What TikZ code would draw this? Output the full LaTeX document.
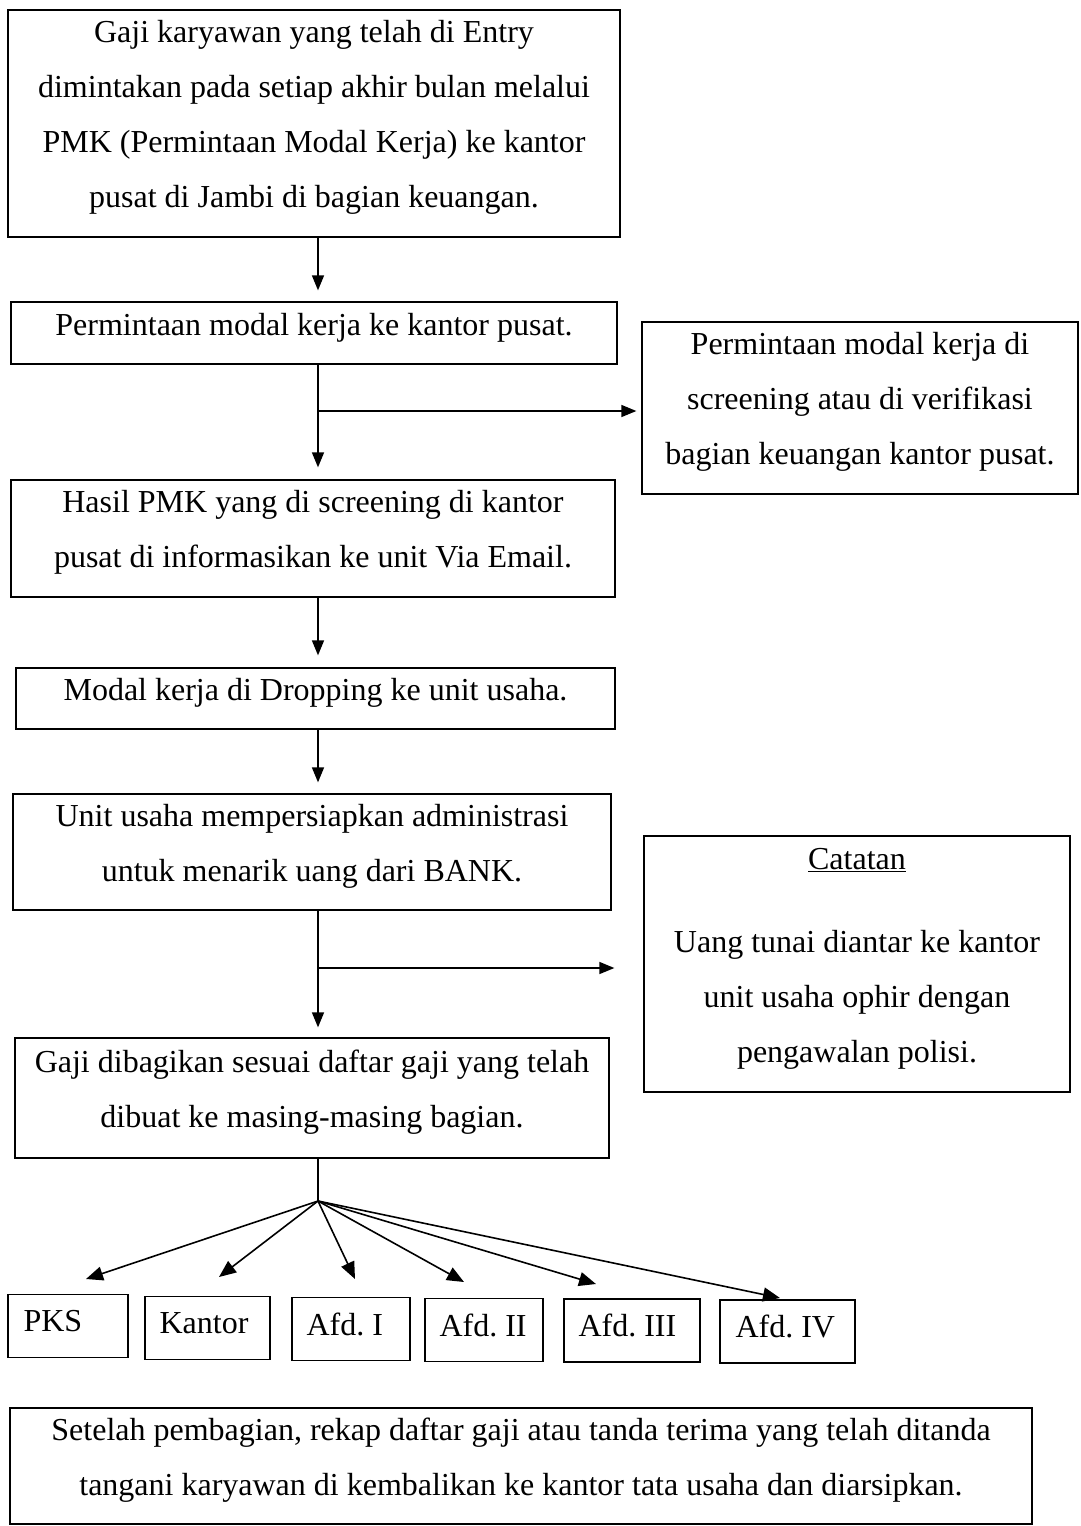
\documentclass[tikz,border=0pt]{standalone}
\usepackage{fontspec}
\setmainfont{Liberation Serif}
\usetikzlibrary{arrows.meta}
\begin{document}
\frenchspacing
\begin{tikzpicture}[x=1pt,y=-1pt,
  box/.style={draw, line width=1.3pt, inner sep=0pt, minimum height=#1},
  txt/.style={align=center, inner sep=0pt, font=\fontsize{32}{55}\selectfont},
  arr/.style={line width=1.5pt, -{Triangle[length=15pt,width=12pt]}},
  farr/.style={line width=1.6pt, -{Triangle[length=17pt,width=14pt]}},
  ln/.style={line width=1.5pt}]
\useasboundingbox[fill=white] (0,0) rectangle (1080,1526);
% boxes
\node[box=227pt, minimum width=612pt] (b1) at (314,123.5) {};
\node[box=62pt, minimum width=606pt] (b2) at (314,333) {};
\node[box=172pt, minimum width=436pt] (r1) at (860,408) {};
\node[box=117pt, minimum width=604pt] (b3) at (313,538.5) {};
\node[box=61pt, minimum width=599pt] (b4) at (315.5,698.5) {};
\node[box=116pt, minimum width=598pt] (b5) at (312,852) {};
\node[box=256pt, minimum width=426pt] (r2) at (857,964) {};
\node[box=120pt, minimum width=594pt] (b6) at (312,1098) {};
\node[box=63pt, minimum width=120pt] (p1) at (68,1326) {};
\node[box=63pt, minimum width=125pt] (p2) at (207.5,1328) {};
\node[box=63pt, minimum width=118pt] (p3) at (351,1329) {};
\node[box=63pt, minimum width=118pt] (p4) at (484,1330) {};
\node[box=63pt, minimum width=136pt] (p5) at (632,1330.5) {};
\node[box=63pt, minimum width=135pt] (p6) at (787.5,1331.5) {};
\node[box=116pt, minimum width=1022pt] (b7) at (521,1466) {};
% texts
\node[txt] at ([yshift=6pt]b1.center) {Gaji karyawan yang telah di Entry\\dimintakan pada setiap akhir bulan melalui\\PMK (Permintaan Modal Kerja) ke kantor\\pusat di Jambi di bagian keuangan.};
\node[txt] at ([yshift=5pt]b2.center) {Permintaan modal kerja ke kantor pusat.};
\node[txt] at ([yshift=6pt]r1.center) {Permintaan modal kerja di\\screening atau di verifikasi\\bagian keuangan kantor pusat.};
\node[txt] at ([yshift=6pt]b3.center) {Hasil PMK yang di screening di kantor\\pusat di informasikan ke unit Via Email.};
\node[txt] at ([yshift=6pt]b4.center) {Modal kerja di Dropping ke unit usaha.};
\node[txt] at ([yshift=6pt]b5.center) {Unit usaha mempersiapkan administrasi\\untuk menarik uang dari BANK.};
\node[txt] at ([yshift=5pt]r2.center) {\underline{Catatan}\\[28pt]Uang tunai diantar ke kantor\\unit usaha ophir dengan\\pengawalan polisi.};
\node[txt] at ([yshift=6pt]b6.center) {Gaji dibagikan sesuai daftar gaji yang telah\\dibuat ke masing-masing bagian.};
\node[txt, anchor=west] at ([xshift=16pt,yshift=5pt]p1.west) {PKS};
\node[txt, anchor=west] at ([xshift=15pt,yshift=5pt]p2.west) {Kantor};
\node[txt, anchor=west] at ([xshift=15pt,yshift=5pt]p3.west) {Afd. I};
\node[txt, anchor=west] at ([xshift=15pt,yshift=5pt]p4.west) {Afd. II};
\node[txt, anchor=west] at ([xshift=15pt,yshift=5pt]p5.west) {Afd. III};
\node[txt, anchor=west] at ([xshift=16pt,yshift=5pt]p6.west) {Afd. IV};
\node[txt] at ([yshift=6pt]b7.center) {Setelah pembagian, rekap daftar gaji atau tanda terima yang telah ditanda\\tangani karyawan di kembalikan ke kantor tata usaha dan diarsipkan.};
% connectors
\coordinate (sp) at (318,0);
\coordinate (j1) at (318,411);
\coordinate (j2) at (318,968);
\coordinate (hub) at (318,1201);
\draw[arr, shorten >=11pt] (b1.south -| sp) -- (b2.north -| sp);
\draw[arr, shorten >=12pt] (b2.south -| sp) -- (b3.north -| sp);
\draw[arr, shorten >=5pt] (j1) -- (r1.west |- j1);
\draw[arr, shorten >=12pt] (b3.south -| sp) -- (b4.north -| sp);
\draw[arr, shorten >=11pt] (b4.south -| sp) -- (b5.north -| sp);
\draw[arr, shorten >=10pt] (b5.south -| sp) -- (b6.north -| sp);
\draw[arr, shorten >=29pt] (j2) -- (r2.west |- j2);
\draw[ln] (b6.south -| sp) -- (hub);
\coordinate (t1) at (86,1279);
\coordinate (t2) at (219,1277);
\coordinate (t3) at (355,1279);
\coordinate (t4) at (464,1282);
\coordinate (t5) at (596,1284);
\coordinate (t6) at (780,1298);
\foreach \t in {t1,t2,t3,t4,t5,t6} \draw[farr] (hub) -- (\t);
\end{tikzpicture}
\end{document}
